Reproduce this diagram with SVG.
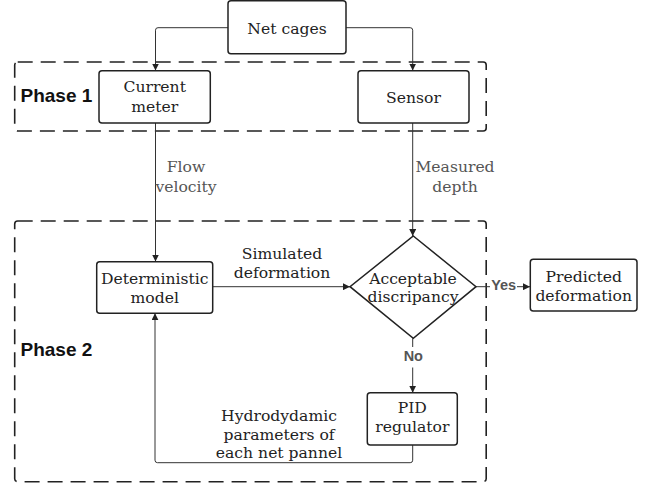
<svg xmlns="http://www.w3.org/2000/svg" width="649" height="488" viewBox="0 0 649 488">
<defs>
<marker id="ah" viewBox="0 0 10 10" refX="10" refY="5" markerWidth="7" markerHeight="7" markerUnits="userSpaceOnUse" orient="auto">
<path d="M0,0 L10,5 L0,10 z" fill="#222"/>
</marker>
<style>
.node{fill:#fff;stroke:#222;stroke-width:1.5}
.phase{fill:none;stroke:#222;stroke-width:1.6;stroke-dasharray:15 8}
.t{font-family:"DejaVu Serif",serif;font-size:15.6px;fill:#222;text-anchor:middle}
.lbl{font-family:"DejaVu Serif",serif;font-size:15.6px;fill:#555;text-anchor:middle}
.ph{font-family:"Liberation Sans",Arial,sans-serif;font-weight:bold;font-size:19px;fill:#111}
.yn{font-family:"Liberation Sans",Arial,sans-serif;font-weight:bold;font-size:14.5px;fill:#555;text-anchor:middle}
.c{fill:none;stroke:#333;stroke-width:1}
</style>
</defs>
<rect x="0" y="0" width="649" height="488" fill="#fff"/>
<g id="phase1">
<rect class="phase" x="14.7" y="62" width="471.5" height="69" rx="3"/>
<text class="ph" x="20.5" y="102">Phase 1</text>
</g>
<g id="phase2">
<rect class="phase" x="14.7" y="221" width="471.5" height="260.7" rx="3"/>
<text class="ph" x="20.5" y="355.5">Phase 2</text>
</g>
<g id="connectors">
<path class="c" d="M228,27.7 H158 Q155.5,27.7 155.5,30.2 V70.5" marker-end="url(#ah)"/>
<path class="c" d="M346,27.7 H410.2 Q412.7,27.7 412.7,30.2 V70.5" marker-end="url(#ah)"/>
<path class="c" d="M155.5,123 V261.5" marker-end="url(#ah)"/>
<text class="lbl" x="186" y="171.7">Flow</text>
<text class="lbl" x="186" y="191.7">velocity</text>
<path class="c" d="M412.7,123 V236" marker-end="url(#ah)"/>
<text class="lbl" x="455" y="171.7">Measured</text>
<text class="lbl" x="455" y="191.7">depth</text>
<path class="c" d="M212.7,286.7 H350" marker-end="url(#ah)"/>
<text class="t" x="282" y="259.3">Simulated</text>
<text class="t" x="282" y="277.5">deformation</text>
<path class="c" d="M476,286.7 H490"/>
<text class="yn" x="503.7" y="289.5">Yes</text>
<path class="c" d="M517,286.7 H530" marker-end="url(#ah)"/>
<path class="c" d="M412.7,338.3 V347"/>
<text class="yn" x="413.3" y="361">No</text>
<path class="c" d="M412.7,367.5 V392.7" marker-end="url(#ah)"/>
<path class="c" d="M412.7,445 V460.2 Q412.7,462.7 410.2,462.7 H157.5 Q155,462.7 155,460.2 V313.3" marker-end="url(#ah)"/>
<text class="t" x="279" y="420.7">Hydrodydamic</text>
<text class="t" x="279" y="440">parameters of</text>
<text class="t" x="279" y="458.3">each net pannel</text>
</g>
<g id="net-cages">
<rect class="node" x="228" y="0.8" width="118" height="53" rx="3"/>
<text class="t" x="287" y="34">Net cages</text>
</g>
<g id="current-meter">
<rect class="node" x="99" y="70.7" width="111.3" height="52.3" rx="3"/>
<text class="t" x="154.7" y="92.3">Current</text>
<text class="t" x="154.7" y="111.7">meter</text>
</g>
<g id="sensor">
<rect class="node" x="358" y="70.7" width="111" height="52.3" rx="3"/>
<text class="t" x="413.5" y="103.3">Sensor</text>
</g>
<g id="deterministic-model">
<rect class="node" x="96.7" y="261.7" width="116" height="51.6" rx="3"/>
<text class="t" x="154.7" y="284">Deterministic</text>
<text class="t" x="154.7" y="302.7">model</text>
</g>
<g id="acceptable-discrepancy">
<path class="node" d="M413.3,236 L476,286.7 L413.3,338.3 L350,286.7 Z"/>
<text class="t" x="413" y="284.3">Acceptable</text>
<text class="t" x="413" y="301.7">discripancy</text>
</g>
<g id="predicted-deformation">
<rect class="node" x="530.3" y="259.3" width="106.7" height="51.7" rx="3"/>
<text class="t" x="583.7" y="282.3">Predicted</text>
<text class="t" x="583.7" y="301">deformation</text>
</g>
<g id="pid-regulator">
<rect class="node" x="367.3" y="392.7" width="90" height="52.3" rx="3"/>
<text class="t" x="412.3" y="413.3">PID</text>
<text class="t" x="412.3" y="432.3">regulator</text>
</g>
</svg>
